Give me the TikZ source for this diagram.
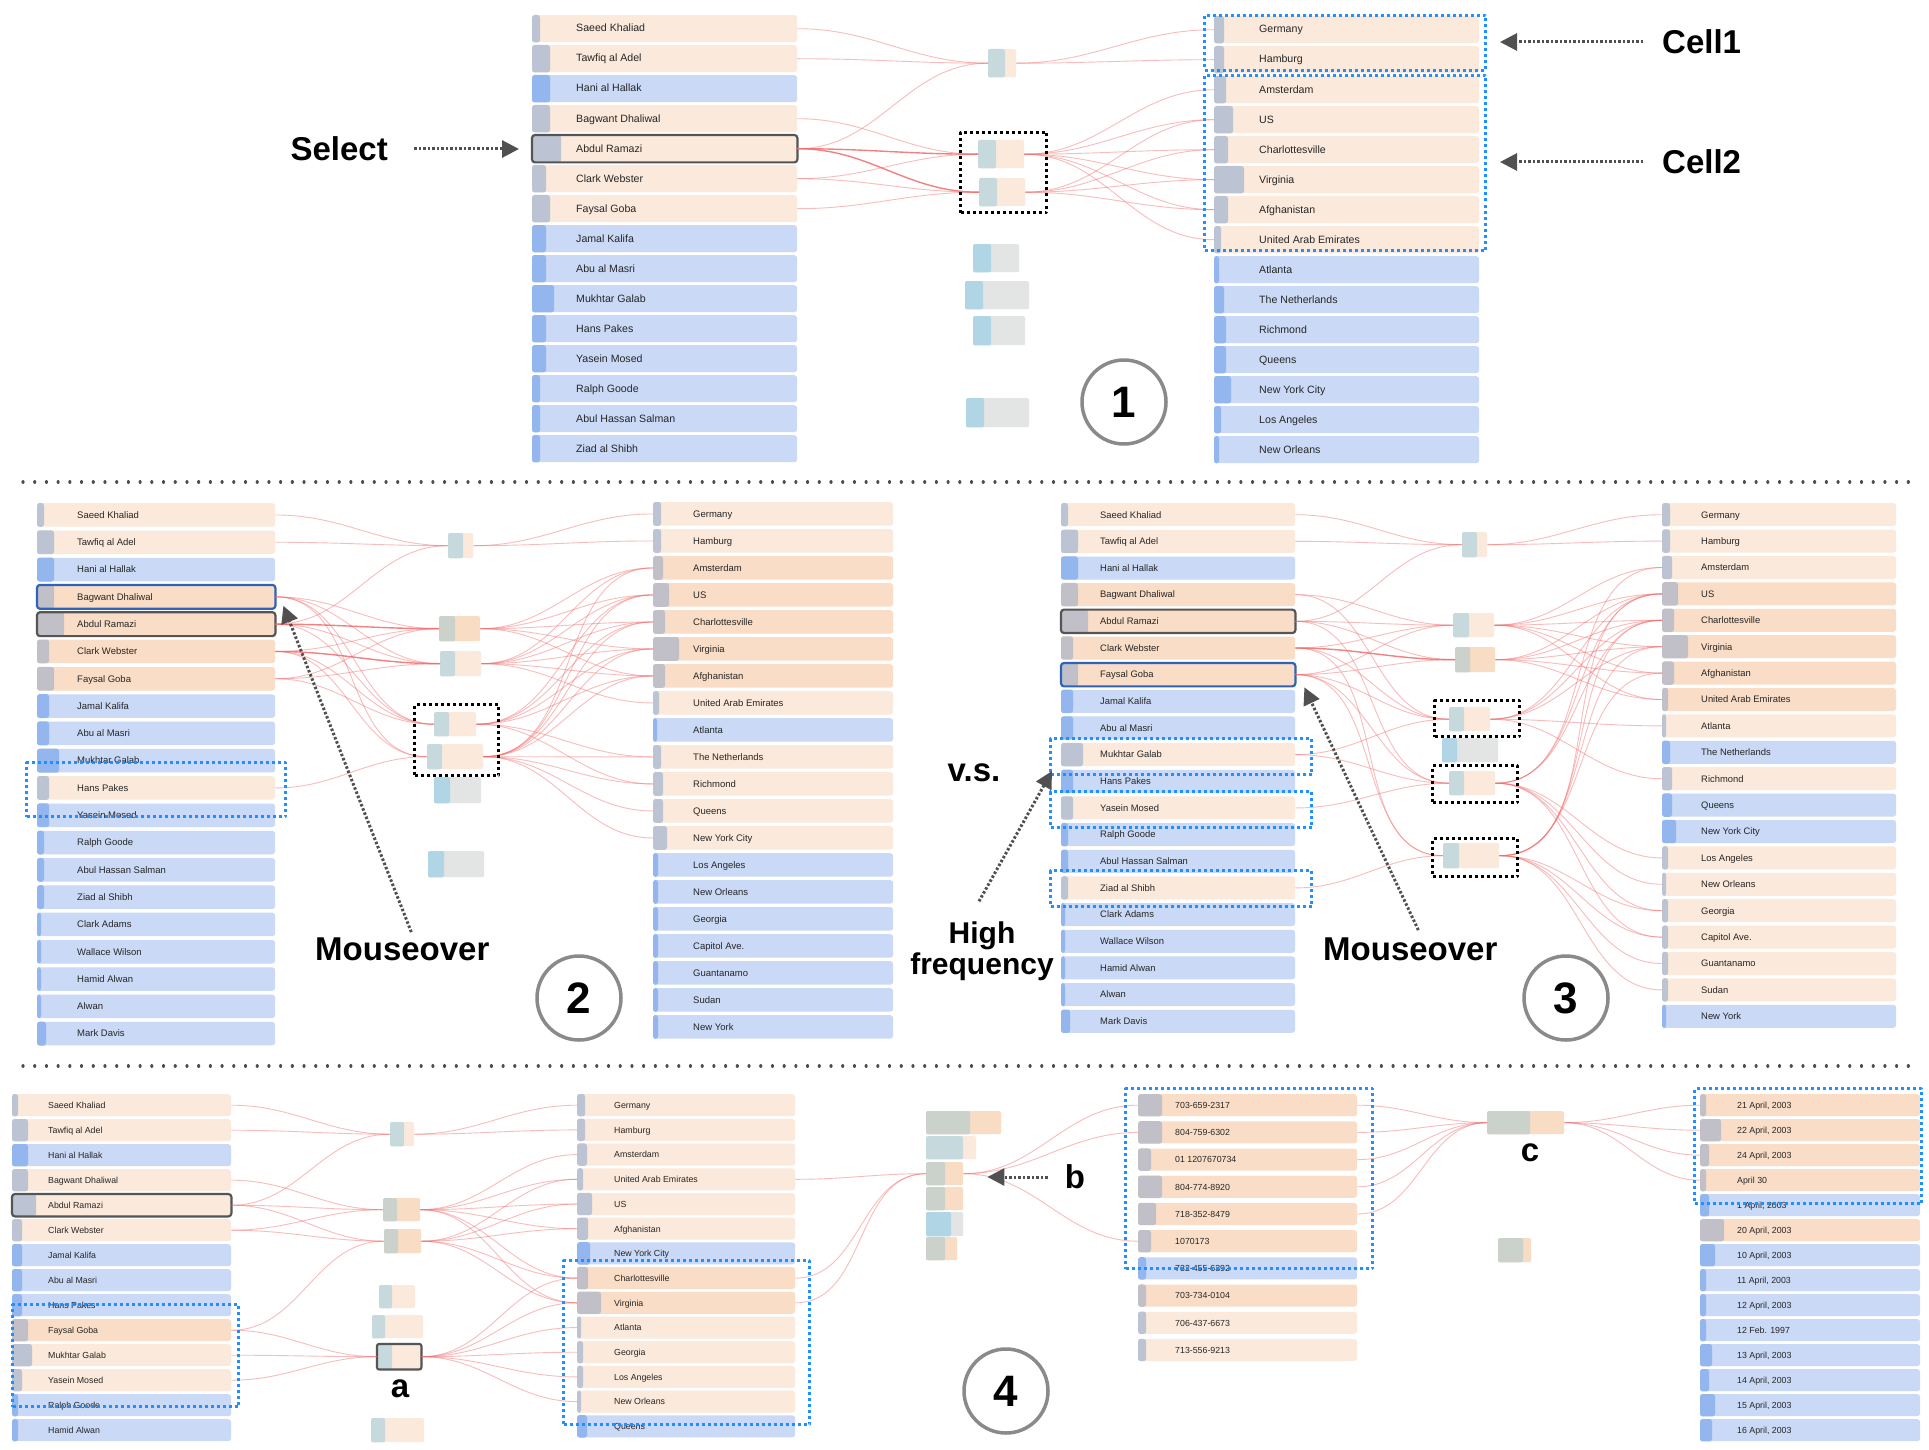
\documentclass[tikz,border=0pt]{standalone}
\usepackage{fontspec}
\setmainfont{Liberation Sans}
\usetikzlibrary{arrows.meta}
\definecolor{rowo}{HTML}{FBE9DB}
\definecolor{rowd}{HTML}{F9DDC6}
\definecolor{rowb}{HTML}{C9D9F6}
\definecolor{tabo}{HTML}{BCC3D3}
\definecolor{tabd}{HTML}{C1C0C9}
\definecolor{tabb}{HTML}{93B6EE}
\definecolor{gteal}{HTML}{C6DADD}
\definecolor{ggreen}{HTML}{CBD1CB}
\definecolor{gblue}{HTML}{B0D5E5}
\definecolor{glgray}{HTML}{E3E4E4}
\definecolor{gpeach}{HTML}{FBE9DB}
\definecolor{gpeachd}{HTML}{F9DCC4}
\definecolor{linkred}{HTML}{F26B6B}
\definecolor{cellblue}{HTML}{1E90FF}
\definecolor{selblue}{HTML}{2E63B8}
\definecolor{seldark}{HTML}{555555}
\definecolor{arrowgray}{HTML}{505050}
\definecolor{circgray}{HTML}{8A8A8A}
% one list column: prefix, x, y, pitch, width, height, text offset, font size, tab/kind/label
\newcommand\namecol[9]{%
  \foreach \tb/\kd/\lb [count=\i] in {#9}{
    \node[rowbox,fill=row\kd,minimum width=#5,minimum height=#6] (#1\i) at (#2,{#3+(\i-1)*#4}) {};
    \fill[tab\kd,rounded corners=2.5] (#1\i.north west) rectangle ([xshift=\tb]#1\i.south west);
    \node[rowtext,font=\fontsize{#8}{#8}\selectfont] at ([xshift=#7]#1\i.west) {\lb};
  }}
% two-part glyph: name, x1, y1, x2, y2, split, left colour, right colour
\newcommand\glyph[8]{%
  \node[glyphbox,fill=#8,minimum width={#4-#2},minimum height={#5-#3}] (#1) at (#2,#3) {};
  \fill[#7,rounded corners=2] (#1.north west) rectangle ([xshift=#6]#1.south west);}
\begin{document}
\begin{tikzpicture}[x=1pt,y=-1pt,line join=round,
  rowbox/.style={anchor=north west,inner sep=0pt,rounded corners=3},
  rowtext/.style={anchor=west,inner sep=0pt,text=black!85,text height=1.5ex,text depth=.25ex},
  glyphbox/.style={anchor=north west,inner sep=0pt,rounded corners=2},
  link/.style={draw=linkred,line width=0.9,opacity=0.45},
  hot/.style={draw=linkred,line width=1.4,opacity=0.85},
  selframe/.style={line width=2.2,rounded corners=3},
  pickbox/.style={draw=black,line width=3,dash pattern=on 3pt off 3pt,anchor=north west,inner sep=0pt},
  cellbox/.style={draw=cellblue,line width=3,dash pattern=on 3pt off 3pt,anchor=north west,inner sep=0pt},
  pointer/.style={draw=arrowgray,line width=3,dash pattern=on 2.5pt off 2pt,-{Triangle[length=17pt,width=17pt]}},
  callout/.style={font=\bfseries\fontsize{33}{36}\selectfont,inner sep=0pt},
  stepnum/.style={circle,draw=circgray,line width=3.5,minimum size=84,inner sep=0pt,font=\bfseries\fontsize{44}{44}\selectfont},
  divider/.style={draw=black!70,line width=3.2,line cap=round,dash pattern=on 0.01pt off 11.7pt}]
\useasboundingbox[fill=white] (0,0) rectangle (1929,1450);

\draw[divider] (23,482) -- (1912,482);
\draw[divider] (23,1066) -- (1912,1066);

% 1
\namecol{pplA}{532}{15}{30}{265}{27}{44}{10.6}{8/o/Saeed Khaliad,18/o/Tawfiq al Adel,18/b/Hani al Hallak,18/o/Bagwant Dhaliwal,29/o/Abdul Ramazi,14/o/Clark Webster,18/o/Faysal Goba,14/b/Jamal Kalifa,14/b/Abu al Masri,22/b/Mukhtar Galab,14/b/Hans Pakes,14/b/Yasein Mosed,8/b/Ralph Goode,8/b/Abul Hassan Salman,8/b/Ziad al Shibh}
\namecol{plcA}{1214}{16}{30}{265}{27}{45}{10.6}{10/o/Germany,10/o/Hamburg,12/o/Amsterdam,19/o/US,14/o/Charlottesville,30/o/Virginia,14/o/Afghanistan,7/o/United Arab Emirates,5/b/Atlanta,10/b/The Netherlands,12/b/Richmond,12/b/Queens,17/b/New York City,7/b/Los Angeles,5/b/New Orleans}
\draw[seldark,selframe] (pplA5.north west) rectangle (pplA5.south east);
\glyph{gA1}{988}{49}{1016}{77}{17}{gteal}{gpeach}
\glyph{gA2}{978}{140}{1024}{168}{18}{gteal}{gpeach}
\glyph{gA3}{979}{178}{1025}{206}{18}{gteal}{gpeach}
\glyph{gA4}{973}{244}{1019}{272}{18}{gblue}{glgray}
\glyph{gA5}{965}{281}{1029}{309}{18}{gblue}{glgray}
\glyph{gA6}{973}{316}{1025}{345}{18}{gblue}{glgray}
\glyph{gA7}{966}{398}{1029}{427}{18}{gblue}{glgray}
\foreach \r in {1,2,5} \draw[link] (pplA\r.east) to[out=0,in=180] (gA1.west);
\foreach \r in {1,2} \draw[link] (gA1.east) to[out=0,in=180] (plcA\r.west);
\foreach \r in {4,6} \draw[link] (pplA\r.east) to[out=0,in=180] (gA2.west);
\foreach \r in {6,7} \draw[link] (pplA\r.east) to[out=0,in=180] (gA3.west);
\draw[hot] (pplA5.east) to[out=0,in=180] (gA2.west);
\draw[hot] (pplA5.east) to[out=0,in=180] (gA3.west);
\foreach \r in {3,...,8} \draw[link] (gA2.east) to[out=0,in=180] (plcA\r.west);
\foreach \r in {4,...,7} \draw[link] (gA3.east) to[out=0,in=180] (plcA\r.west);
\node[pickbox,minimum width=86,minimum height=80] (pickA) at (959,131) {};
\node[cellbox,minimum width=281,minimum height=55] (cellA) at (1203,14) {};
\node[cellbox,minimum width=281,minimum height=175] (cellB) at (1203,74) {};
\node[callout,anchor=west] (cellAtxt) at (1662,42) {Cell1};
\node[callout,anchor=west] (cellBtxt) at (1662,162) {Cell2};
\draw[pointer,shorten <=19pt,shorten >=13pt] (cellAtxt.west) -- (cellAtxt.west -| cellA.east);
\draw[pointer,shorten <=19pt,shorten >=13pt] (cellBtxt.west) -- (cellBtxt.west -| cellB.east);
\node[callout,anchor=east] (seltxt) at (388,149) {Select};
\draw[pointer,shorten <=26pt,shorten >=13pt] (seltxt.east) -- (seltxt.east -| pplA5.west);
\node[stepnum] (numA) at (1124,402) {1};

% 2
\namecol{pplB}{37}{503}{27.3}{238}{23.5}{40}{9.5}{7/o/Saeed Khaliad,17/o/Tawfiq al Adel,17/b/Hani al Hallak,17/d/Bagwant Dhaliwal,27/d/Abdul Ramazi,12/d/Clark Webster,17/d/Faysal Goba,12/b/Jamal Kalifa,12/b/Abu al Masri,22/b/Mukhtar Galab,12/o/Hans Pakes,12/b/Yasein Mosed,7/b/Ralph Goode,7/b/Abul Hassan Salman,7/b/Ziad al Shibh,4/b/Clark Adams,4/b/Wallace Wilson,4/b/Hamid Alwan,4/b/Alwan,9/b/Mark Davis}
\namecol{plcB}{653}{502}{27.0}{240}{23.5}{40}{9.5}{8/o/Germany,8/o/Hamburg,10/d/Amsterdam,16/d/US,12/d/Charlottesville,26/d/Virginia,12/d/Afghanistan,6/o/United Arab Emirates,4/b/Atlanta,8/o/The Netherlands,10/o/Richmond,10/o/Queens,14/o/New York City,5/b/Los Angeles,5/b/New Orleans,5/b/Georgia,5/b/Capitol Ave.,5/b/Guantanamo,5/b/Sudan,5/b/New York}
\draw[selblue,selframe] (pplB4.north west) rectangle (pplB4.south east);
\draw[seldark,selframe] (pplB5.north west) rectangle (pplB5.south east);
\glyph{gB1}{448}{533}{473}{558}{15}{gteal}{gpeach}
\glyph{gB2}{439}{616}{480}{641}{16}{ggreen}{gpeachd}
\glyph{gB3}{440}{651}{481}{676}{15}{gteal}{gpeach}
\glyph{gB4}{434}{712}{476}{736}{15}{gteal}{gpeach}
\glyph{gB5}{427}{744}{483}{769}{15}{gteal}{gpeach}
\glyph{gB6}{434}{777}{481}{803}{16}{gblue}{glgray}
\glyph{gB7}{428}{851}{484}{877}{16}{gblue}{glgray}
\foreach \r in {1,2,5} \draw[link] (pplB\r.east) to[out=0,in=180] (gB1.west);
\foreach \r in {1,2} \draw[link] (gB1.east) to[out=0,in=180] (plcB\r.west);
\foreach \r in {4,6,7} \draw[link] (pplB\r.east) to[out=0,in=180] (gB2.west);
\draw[hot] (pplB5.east) to[out=0,in=180] (gB2.west);
\foreach \r in {3,...,7} \draw[link] (gB2.east) to[out=0,in=180] (plcB\r.west);
\foreach \r in {4,5,7} \draw[link] (pplB\r.east) to[out=0,in=180] (gB3.west);
\draw[hot] (pplB6.east) to[out=0,in=180] (gB3.west);
\foreach \r in {3,...,8} \draw[link] (gB3.east) to[out=0,in=180] (plcB\r.west);
\foreach \r in {4,5,6,7} \draw[link] (pplB\r.east) to[out=0,in=180] (gB4.west);
\foreach \r in {4,5,6,7,10,11} \draw[link] (gB4.east) to[out=0,in=180] (plcB\r.west);
\foreach \r in {4,6,11} \draw[link] (pplB\r.east) to[out=0,in=180] (gB5.west);
\foreach \r in {3,4,5,6,7,10,11,12,13} \draw[link] (gB5.east) to[out=0,in=180] (plcB\r.west);
\node[pickbox,minimum width=84,minimum height=71] (pickB) at (413,703) {};
\node[cellbox,minimum width=259,minimum height=54] (cellC) at (25,761) {};
\node[callout,anchor=base west] (moB) at (315,960) {Mouseover};
\draw[pointer] ([shift={(9pt,5pt)}]moB.north) -- ([shift={(8pt,3pt)}]pplB4.south east);
\node[stepnum] (numB) at (579,998) {2};

% 3
\namecol{pplC}{1061}{503}{26.66}{234}{23}{39}{9.4}{7/o/Saeed Khaliad,17/o/Tawfiq al Adel,17/b/Hani al Hallak,17/d/Bagwant Dhaliwal,27/d/Abdul Ramazi,12/d/Clark Webster,17/d/Faysal Goba,12/b/Jamal Kalifa,12/b/Abu al Masri,22/o/Mukhtar Galab,12/b/Hans Pakes,12/o/Yasein Mosed,7/b/Ralph Goode,7/b/Abul Hassan Salman,7/o/Ziad al Shibh,4/b/Clark Adams,4/b/Wallace Wilson,4/b/Hamid Alwan,4/b/Alwan,9/b/Mark Davis}
\namecol{plcC}{1662}{503}{26.4}{234}{23}{39}{9.4}{8/o/Germany,8/o/Hamburg,10/o/Amsterdam,16/d/US,12/d/Charlottesville,26/d/Virginia,12/d/Afghanistan,6/d/United Arab Emirates,4/o/Atlanta,8/b/The Netherlands,10/o/Richmond,10/b/Queens,14/b/New York City,6/o/Los Angeles,4/o/New Orleans,6/o/Georgia,6/o/Capitol Ave.,6/o/Guantanamo,6/o/Sudan,4/b/New York}
\draw[seldark,selframe] (pplC5.north west) rectangle (pplC5.south east);
\draw[selblue,selframe] (pplC7.north west) rectangle (pplC7.south east);
\glyph{gC1}{1462}{532}{1487}{557}{15}{gteal}{gpeach}
\glyph{gC2}{1453}{613}{1494}{637}{16}{gteal}{gpeach}
\glyph{gC3}{1455}{647}{1495}{672}{15}{ggreen}{gpeachd}
\glyph{gC4}{1449}{707}{1490}{731}{15}{gteal}{gpeach}
\glyph{gC5}{1442}{738}{1498}{762}{15}{gblue}{glgray}
\glyph{gC6}{1449}{771}{1495}{795}{15}{gteal}{gpeach}
\glyph{gC7}{1443}{843}{1499}{868}{16}{gteal}{gpeach}
\foreach \r in {1,2,5} \draw[link] (pplC\r.east) to[out=0,in=180] (gC1.west);
\foreach \r in {1,2} \draw[link] (gC1.east) to[out=0,in=180] (plcC\r.west);
\foreach \r in {4,5,6,7} \draw[link] (pplC\r.east) to[out=0,in=180] (gC2.west);
\foreach \r in {3,...,8} \draw[link] (gC2.east) to[out=0,in=180] (plcC\r.west);
\foreach \r in {5,7} \draw[link] (pplC\r.east) to[out=0,in=180] (gC3.west);
\draw[hot] (pplC6.east) to[out=0,in=180] (gC3.west);
\foreach \r in {4,...,8} \draw[link] (gC3.east) to[out=0,in=180] (plcC\r.west);
\foreach \r in {4,6,7,10} \draw[link] (pplC\r.east) to[out=0,in=180] (gC4.west);
\foreach \r in {4,5,6,9,11} \draw[link] (gC4.east) to[out=0,in=180] (plcC\r.west);
\foreach \r in {5,7,10,12} \draw[link] (pplC\r.east) to[out=0,in=180] (gC6.west);
\foreach \r in {3,4,5,14,15,16,17} \draw[link] (gC6.east) to[out=0,in=180] (plcC\r.west);
\foreach \r in {6,7,15} \draw[link] (pplC\r.east) to[out=0,in=180] (gC7.west);
\foreach \r in {4,5,6,7,16,17,18,19} \draw[link] (gC7.east) to[out=0,in=180] (plcC\r.west);
\node[pickbox,minimum width=85,minimum height=36] (pickC) at (1433,699) {};
\node[pickbox,minimum width=85,minimum height=37] (pickD) at (1431,764) {};
\node[pickbox,minimum width=85,minimum height=38] (pickE) at (1431,837) {};
\node[cellbox,minimum width=261,minimum height=36] (cellD) at (1049,737) {};
\node[cellbox,minimum width=261,minimum height=36] (cellE) at (1049,790) {};
\node[cellbox,minimum width=261,minimum height=36] (cellF) at (1049,869) {};
\node[callout] (vs) at (974,773) {v.s.};
\node[callout,align=center,font=\bfseries\fontsize{30}{31}\selectfont] (hf) at (982,951) {High\\frequency};
\draw[pointer] ([shift={(-3pt,20pt)}]hf.north) -- ([shift={(3pt,5pt)}]cellD.south west);
\node[callout,anchor=base west] (moC) at (1323,960) {Mouseover};
\draw[pointer] ([shift={(8pt,7pt)}]moC.north) -- ([shift={(9pt,-1pt)}]pplC7.south east);
\node[stepnum] (numC) at (1566,998) {3};

% 4
\namecol{pplD}{12}{1094}{25}{219}{22}{36}{8.8}{6/o/Saeed Khaliad,16/o/Tawfiq al Adel,16/b/Hani al Hallak,16/o/Bagwant Dhaliwal,24/o/Abdul Ramazi,10/o/Clark Webster,10/b/Jamal Kalifa,10/b/Abu al Masri,10/b/Hans Pakes,16/d/Faysal Goba,20/o/Mukhtar Galab,10/o/Yasein Mosed,6/b/Ralph Goode,6/b/Hamid Alwan}
\namecol{plcD}{577}{1094}{24.7}{218}{22}{37}{8.8}{8/o/Germany,8/o/Hamburg,10/o/Amsterdam,6/o/United Arab Emirates,15/o/US,11/o/Afghanistan,13/b/New York City,11/d/Charlottesville,24/d/Virginia,4/o/Atlanta,6/o/Georgia,6/o/Los Angeles,4/o/New Orleans,10/b/Queens}
\namecol{telD}{1138}{1094}{27.2}{219}{22}{37}{8.8}{24/d/703-659-2317,24/d/804-759-6302,13/d/01 1207670734,24/d/804-774-8920,18/d/718-352-8479,13/d/1070173,8/b/732-455-6392,8/d/703-734-0104,8/o/706-437-6673,8/o/713-556-9213}
\namecol{dayD}{1700}{1094}{25}{220}{22}{37}{8.8}{6/d/{21 April, 2003},21/d/{22 April, 2003},9/d/{24 April, 2003},6/d/April 30,9/b/{1 April, 2003},24/d/{20 April, 2003},15/b/{10 April, 2003},6/b/{11 April, 2003},6/b/{12 April, 2003},6/b/12 Feb. 1997,12/b/{13 April, 2003},9/b/{14 April, 2003},15/b/{15 April, 2003},12/b/{16 April, 2003}}
\draw[seldark,selframe] (pplD5.north west) rectangle (pplD5.south east);
\glyph{gD1}{390}{1122}{414}{1146}{14}{gteal}{gpeach}
\glyph{gD2}{383}{1198}{420}{1221}{14}{ggreen}{gpeachd}
\glyph{gD3}{384}{1229}{421}{1253}{14}{ggreen}{gpeachd}
\glyph{gD4}{379}{1285}{415}{1308}{13}{gteal}{gpeach}
\glyph{gD5}{372}{1315}{423}{1338}{13}{gteal}{gpeach}
\glyph{gD6}{377}{1344}{421}{1369}{15}{gteal}{gpeach}
\glyph{gD7}{371}{1418}{424}{1442}{14}{gteal}{gpeach}
\draw[seldark,selframe,rounded corners=2] (gD6.north west) rectangle (gD6.south east);
\glyph{gS1}{926}{1111}{1001}{1134}{44}{ggreen}{gpeachd}
\glyph{gS2}{926}{1136}{976}{1159}{37}{gteal}{gpeach}
\glyph{gS3}{926}{1162}{963}{1185}{19}{ggreen}{gpeachd}
\glyph{gS4}{926}{1187}{963}{1210}{19}{ggreen}{gpeachd}
\glyph{gS5}{926}{1212}{963}{1236}{25}{gblue}{glgray}
\glyph{gS6}{926}{1237}{957}{1260}{19}{ggreen}{gpeachd}
\glyph{gT1}{1487}{1111}{1564}{1134}{43}{ggreen}{gpeachd}
\glyph{gT2}{1498}{1238}{1531}{1262}{25}{ggreen}{gpeachd}
\foreach \r in {1,2,5} \draw[link] (pplD\r.east) to[out=0,in=180] (gD1.west);
\foreach \r in {1,2} \draw[link] (gD1.east) to[out=0,in=180] (plcD\r.west);
\foreach \r in {4,5,6} \draw[link] (pplD\r.east) to[out=0,in=180] (gD2.west);
\foreach \r in {3,4,5,6,8,9} \draw[link] (gD2.east) to[out=0,in=180] (plcD\r.west);
\foreach \r in {5,6,10} \draw[link] (pplD\r.east) to[out=0,in=180] (gD3.west);
\foreach \r in {4,5,6,8,9} \draw[link] (gD3.east) to[out=0,in=180] (plcD\r.west);
\foreach \r in {10,11,12} \draw[link] (pplD\r.east) to[out=0,in=180] (gD6.west);
\foreach \r in {8,...,13} \draw[link] (gD6.east) to[out=0,in=180] (plcD\r.west);
\foreach \r in {4,8,9} \draw[link] (plcD\r.east) to[out=0,in=180] (gS3.west);
\foreach \r in {1,2,6} \draw[link] (gS3.east) to[out=0,in=180] (telD\r.west);
\foreach \r in {1,...,5} \draw[link] (telD\r.east) to[out=0,in=180] (gT1.west);
\foreach \r in {1,...,4} \draw[link] (gT1.east) to[out=0,in=180] (dayD\r.west);
\node[cellbox,minimum width=226,minimum height=102] (cellG) at (11,1303) {};
\node[cellbox,minimum width=246,minimum height=164] (cellH) at (562,1259) {};
\node[cellbox,minimum width=247,minimum height=180] (cellI) at (1124,1087) {};
\node[cellbox,minimum width=227,minimum height=115] (cellJ) at (1693,1087) {};
\node[callout] (lblA) at (400,1389) {a};
\node[callout] (lblB) at (1075,1177) {b};
\node[callout] (lblC) at (1530,1153) {c};
\draw[pointer,shorten <=17pt,shorten >=24pt] (lblB.west) -- (lblB.west -| gS3.east);
\node[stepnum] (numD) at (1006,1391) {4};
\end{tikzpicture}
\end{document}
